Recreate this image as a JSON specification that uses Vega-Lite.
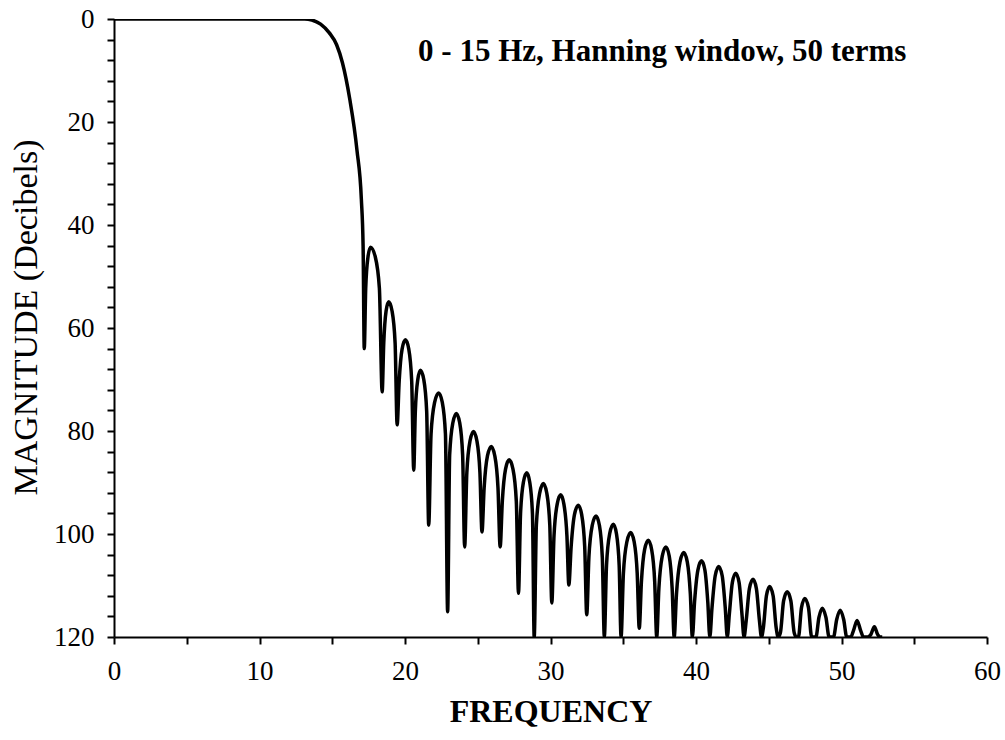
{
  "$schema": "https://vega.github.io/schema/vega-lite/v6.json",
  "autosize": "none",
  "width": 873,
  "height": 618,
  "padding": {"left": 114, "top": 19, "right": 18, "bottom": 103},
  "background": "white",
  "config": {
    "view": {"stroke": null},
    "font": "Liberation Serif",
    "axis": {
      "grid": false,
      "domainColor": "black",
      "domainWidth": 2,
      "tickColor": "black",
      "tickWidth": 2,
      "tickSize": 7,
      "labelColor": "black",
      "labelFont": "Liberation Serif",
      "labelFontSize": 27,
      "labelOverlap": false,
      "labelFlush": false,
      "labelBound": false,
      "titleColor": "black",
      "titleFont": "Liberation Serif"
    }
  },
  "datasets": {
    "response": [
      {"f": 0, "db": 0}, {"f": 13.1, "db": 0}, {"f": 13.6, "db": -0.2}, {"f": 14.2, "db": -1.0},
      {"f": 14.8, "db": -2.7}, {"f": 15.3, "db": -5.0}, {"f": 15.7, "db": -8.5}, {"f": 16.2, "db": -15.5},
      {"f": 16.7, "db": -25.5}, {"f": 17.0, "db": -35}, {"f": 17.12, "db": -44}, {"f": 17.2, "db": -64},
      {"f": 17.30, "db": -52.3}, {"f": 17.46, "db": -46.1}, {"f": 17.63, "db": -44.3}, {"f": 17.95, "db": -46.1}, {"f": 18.24, "db": -52.3},
      {"f": 18.43, "db": -72.4},
      {"f": 18.54, "db": -62.9}, {"f": 18.70, "db": -56.7}, {"f": 18.88, "db": -54.9}, {"f": 19.11, "db": -56.7}, {"f": 19.32, "db": -62.9},
      {"f": 19.46, "db": -78.8},
      {"f": 19.60, "db": -70.3}, {"f": 19.80, "db": -64.1}, {"f": 20.03, "db": -62.3}, {"f": 20.26, "db": -64.1}, {"f": 20.46, "db": -70.3},
      {"f": 20.6, "db": -87.6},
      {"f": 20.71, "db": -76.2}, {"f": 20.88, "db": -70.0}, {"f": 21.06, "db": -68.2}, {"f": 21.29, "db": -70.0}, {"f": 21.49, "db": -76.2},
      {"f": 21.63, "db": -98.3},
      {"f": 21.79, "db": -80.6}, {"f": 22.04, "db": -74.4}, {"f": 22.31, "db": -72.6}, {"f": 22.56, "db": -74.4}, {"f": 22.78, "db": -80.6},
      {"f": 22.93, "db": -115.1},
      {"f": 23.07, "db": -84.6}, {"f": 23.29, "db": -78.4}, {"f": 23.53, "db": -76.6}, {"f": 23.76, "db": -78.4}, {"f": 23.96, "db": -84.6},
      {"f": 24.1, "db": -102.5},
      {"f": 24.25, "db": -88.1}, {"f": 24.47, "db": -81.9}, {"f": 24.71, "db": -80.1}, {"f": 24.94, "db": -81.9}, {"f": 25.15, "db": -88.1},
      {"f": 25.29, "db": -99.6},
      {"f": 25.44, "db": -91.0}, {"f": 25.67, "db": -84.8}, {"f": 25.93, "db": -83.0}, {"f": 26.17, "db": -84.8}, {"f": 26.39, "db": -91.0},
      {"f": 26.54, "db": -102.5},
      {"f": 26.69, "db": -93.6}, {"f": 26.91, "db": -87.4}, {"f": 27.16, "db": -85.6}, {"f": 27.42, "db": -87.4}, {"f": 27.65, "db": -93.6},
      {"f": 27.8, "db": -111.5},
      {"f": 27.94, "db": -96.1}, {"f": 28.14, "db": -89.9}, {"f": 28.37, "db": -88.1}, {"f": 28.57, "db": -89.9}, {"f": 28.76, "db": -96.1},
      {"f": 28.88, "db": -120},
      {"f": 29.03, "db": -98.2}, {"f": 29.26, "db": -92.0}, {"f": 29.51, "db": -90.2}, {"f": 29.74, "db": -92.0}, {"f": 29.95, "db": -98.2},
      {"f": 30.09, "db": -113.4},
      {"f": 30.24, "db": -100.4}, {"f": 30.46, "db": -94.2}, {"f": 30.7, "db": -92.4}, {"f": 30.92, "db": -94.2}, {"f": 31.13, "db": -100.4},
      {"f": 31.26, "db": -109.9},
      {"f": 31.42, "db": -102.4}, {"f": 31.65, "db": -96.2}, {"f": 31.91, "db": -94.4}, {"f": 32.14, "db": -96.2}, {"f": 32.35, "db": -102.4},
      {"f": 32.49, "db": -115.7},
      {"f": 32.64, "db": -104.5}, {"f": 32.87, "db": -98.3}, {"f": 33.13, "db": -96.5}, {"f": 33.36, "db": -98.3}, {"f": 33.56, "db": -104.5},
      {"f": 33.7, "db": -120},
      {"f": 33.85, "db": -106.1}, {"f": 34.07, "db": -99.9}, {"f": 34.32, "db": -98.1}, {"f": 34.53, "db": -99.9}, {"f": 34.72, "db": -106.1},
      {"f": 34.85, "db": -120},
      {"f": 35.01, "db": -107.7}, {"f": 35.25, "db": -101.5}, {"f": 35.51, "db": -99.7}, {"f": 35.75, "db": -101.5}, {"f": 35.96, "db": -107.7},
      {"f": 36.1, "db": -118.3},
      {"f": 36.25, "db": -109.2}, {"f": 36.47, "db": -103.0}, {"f": 36.72, "db": -101.2}, {"f": 36.95, "db": -103.0}, {"f": 37.16, "db": -109.2},
      {"f": 37.3, "db": -120},
      {"f": 37.45, "db": -110.5}, {"f": 37.68, "db": -104.3}, {"f": 37.93, "db": -102.5}, {"f": 38.16, "db": -104.3}, {"f": 38.36, "db": -110.5},
      {"f": 38.5, "db": -120},
      {"f": 38.66, "db": -111.6}, {"f": 38.90, "db": -105.4}, {"f": 39.16, "db": -103.6}, {"f": 39.40, "db": -105.4}, {"f": 39.61, "db": -111.6},
      {"f": 39.75, "db": -120},
      {"f": 39.90, "db": -113.2}, {"f": 40.13, "db": -107.0}, {"f": 40.38, "db": -105.2}, {"f": 40.61, "db": -107.0}, {"f": 40.81, "db": -113.2},
      {"f": 40.95, "db": -120},
      {"f": 41.10, "db": -114.3}, {"f": 41.32, "db": -108.1}, {"f": 41.56, "db": -106.3}, {"f": 41.80, "db": -108.1}, {"f": 42.01, "db": -114.3},
      {"f": 42.15, "db": -120},
      {"f": 42.29, "db": -115.6}, {"f": 42.50, "db": -109.4}, {"f": 42.73, "db": -107.6}, {"f": 42.96, "db": -109.4}, {"f": 43.16, "db": -115.6},
      {"f": 43.3, "db": -120},
      {"f": 43.45, "db": -116.8}, {"f": 43.67, "db": -110.6}, {"f": 43.92, "db": -108.8}, {"f": 44.15, "db": -110.6}, {"f": 44.36, "db": -116.8},
      {"f": 44.5, "db": -120},
      {"f": 44.63, "db": -118.2}, {"f": 44.84, "db": -112.0}, {"f": 45.06, "db": -110.2}, {"f": 45.30, "db": -112.0}, {"f": 45.51, "db": -118.2},
      {"f": 45.65, "db": -120},
      {"f": 45.80, "db": -119.2}, {"f": 46.02, "db": -113.0}, {"f": 46.27, "db": -111.2}, {"f": 46.52, "db": -113.0}, {"f": 46.75, "db": -119.2},
      {"f": 46.9, "db": -120},
      {"f": 47.04, "db": -120}, {"f": 47.25, "db": -114.3}, {"f": 47.48, "db": -112.5}, {"f": 47.73, "db": -114.3}, {"f": 47.95, "db": -120},
      {"f": 48.1, "db": -120},
      {"f": 48.24, "db": -120}, {"f": 48.45, "db": -116.2}, {"f": 48.68, "db": -114.4}, {"f": 48.93, "db": -116.2}, {"f": 49.15, "db": -120},
      {"f": 49.3, "db": -120},
      {"f": 49.45, "db": -120}, {"f": 49.67, "db": -116.6}, {"f": 49.91, "db": -114.8}, {"f": 50.15, "db": -116.6}, {"f": 50.36, "db": -120},
      {"f": 50.5, "db": -120},
      {"f": 50.64, "db": -120}, {"f": 50.84, "db": -118.6}, {"f": 51.07, "db": -116.8}, {"f": 51.30, "db": -118.6}, {"f": 51.51, "db": -120},
      {"f": 51.65, "db": -120},
      {"f": 51.80, "db": -120}, {"f": 52.02, "db": -119.5}, {"f": 52.26, "db": -118.0}, {"f": 52.48, "db": -119.5}, {"f": 52.67, "db": -120},
      {"f": 52.8, "db": -120}
    ]
  },
  "layer": [
    {
      "data": {"name": "response"},
      "mark": {"type": "line", "color": "black", "strokeWidth": 3.5, "interpolate": "monotone", "clip": true},
      "encoding": {
        "x": {
          "field": "f", "type": "quantitative",
          "scale": {"domain": [0, 60], "nice": false, "zero": false},
          "axis": {
            "values": [0, 5, 10, 15, 20, 25, 30, 35, 40, 45, 50, 55, 60],
            "labelExpr": "datum.value % 10 === 0 ? datum.label : ''",
            "labelPadding": 14,
            "title": "FREQUENCY",
            "titleFontSize": 32,
            "titleFontWeight": "bold",
            "titleBaseline": "middle",
            "titleY": 74
          }
        },
        "y": {
          "field": "db", "type": "quantitative",
          "scale": {"domain": [-120, 0], "nice": false, "zero": false},
          "axis": {
            "values": [0, -4, -8, -12, -16, -20, -24, -28, -32, -36, -40, -44, -48, -52, -56, -60, -64, -68, -72, -76, -80, -84, -88, -92, -96, -100, -104, -108, -112, -116, -120],
            "labelExpr": "abs(datum.value) % 20 === 0 ? format(abs(datum.value), 'd') : ''",
            "labelPadding": 13,
            "labelBaseline": "middle",
            "title": "MAGNITUDE (Decibels)",
            "titleFontSize": 34,
            "titleFontWeight": "normal",
            "titleAngle": -90,
            "titleBaseline": "middle",
            "titleX": -88,
            "titleY": 298
          }
        }
      }
    },
    {
      "data": {"values": [{"note": "0 - 15 Hz, Hanning window, 50 terms"}]},
      "mark": {"type": "text", "align": "left", "baseline": "middle", "font": "Liberation Serif", "fontWeight": "bold", "fontSize": 31, "color": "black"},
      "encoding": {
        "x": {
          "datum": 20.9, "type": "quantitative",
          "axis": {
            "values": [0, 5, 10, 15, 20, 25, 30, 35, 40, 45, 50, 55, 60],
            "labelExpr": "datum.value % 10 === 0 ? datum.label : ''",
            "labelPadding": 14,
            "title": "FREQUENCY",
            "titleFontSize": 32,
            "titleFontWeight": "bold",
            "titleBaseline": "middle",
            "titleY": 74
          }
        },
        "y": {
          "datum": -6.4, "type": "quantitative",
          "axis": {
            "values": [0, -4, -8, -12, -16, -20, -24, -28, -32, -36, -40, -44, -48, -52, -56, -60, -64, -68, -72, -76, -80, -84, -88, -92, -96, -100, -104, -108, -112, -116, -120],
            "labelExpr": "abs(datum.value) % 20 === 0 ? format(abs(datum.value), 'd') : ''",
            "labelPadding": 13,
            "labelBaseline": "middle",
            "title": "MAGNITUDE (Decibels)",
            "titleFontSize": 34,
            "titleFontWeight": "normal",
            "titleAngle": -90,
            "titleBaseline": "middle",
            "titleX": -88,
            "titleY": 298
          }
        },
        "text": {"field": "note", "type": "nominal"}
      }
    }
  ]
}
